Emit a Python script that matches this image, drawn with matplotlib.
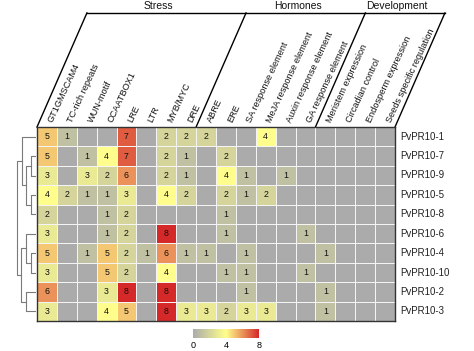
import numpy as np
import matplotlib
matplotlib.use("Agg")
import matplotlib.pyplot as plt
from matplotlib.colors import LinearSegmentedColormap

plt.rcParams['font.family'] = ['Liberation Sans', 'DejaVu Sans']

genes = ["PvPR10-1", "PvPR10-7", "PvPR10-9", "PvPR10-5", "PvPR10-8",
         "PvPR10-6", "PvPR10-4", "PvPR10-10", "PvPR10-2", "PvPR10-3"]

elements = ["GT1GMSCAM4", "TC-rich repeats", "WUN-motif", "CCAATBOX1", "LRE",
            "LTR", "MYB/MYC", "DRE", "ABRE", "ERE", "SA response element",
            "MeJA response element", "Auxin response element",
            "GA response element", "Meristem expression", "Circadian control",
            "Endosperm expression", "Seeds specific regulation"]

groups = ["Stress", "Hormones", "Development"]
group_sizes = [8, 6, 4]

# number of cis-elements per promoter (rows = genes, cols = elements)
counts = np.array([
    [5, 1, 0, 0, 7, 0, 2, 2, 2, 0, 0, 4, 0, 0, 0, 0, 0, 0],
    [5, 0, 1, 4, 7, 0, 2, 1, 0, 2, 0, 0, 0, 0, 0, 0, 0, 0],
    [3, 0, 3, 2, 6, 0, 2, 1, 0, 4, 1, 0, 1, 0, 0, 0, 0, 0],
    [4, 2, 1, 1, 3, 0, 4, 2, 0, 2, 1, 2, 0, 0, 0, 0, 0, 0],
    [2, 0, 0, 1, 2, 0, 0, 0, 0, 1, 0, 0, 0, 0, 0, 0, 0, 0],
    [3, 0, 0, 1, 2, 0, 8, 0, 0, 1, 0, 0, 0, 1, 0, 0, 0, 0],
    [5, 0, 1, 5, 2, 1, 6, 1, 1, 0, 1, 0, 0, 0, 1, 0, 0, 0],
    [3, 0, 0, 5, 2, 0, 4, 0, 0, 1, 1, 0, 0, 1, 0, 0, 0, 0],
    [6, 0, 0, 3, 8, 0, 8, 0, 0, 0, 1, 0, 0, 0, 1, 0, 0, 0],
    [3, 0, 0, 4, 5, 0, 8, 3, 3, 2, 3, 3, 0, 0, 1, 0, 0, 0],
])

# row clustering, scipy-like: (left, right, height), new ids start at 10
links = [
    (1, 2, 1.0),
    (3, 4, 1.0),
    (10, 11, 2.1),
    (0, 12, 3.1),
    (6, 7, 1.0),
    (5, 14, 2.1),
    (8, 9, 2.1),
    (15, 16, 3.3),
    (13, 17, 4.1),
]

cmap = LinearSegmentedColormap.from_list(
    "gyr", [(0.0, "#ababab"), (0.5, "#ffff8c"), (1.0, "#d52828")])

W, H = 474, 351
fig = plt.figure(figsize=(W / 100, H / 100), dpi=100)

nrow, ncol = counts.shape
hx0, hx1, hy0, hy1 = 37, 395, 127, 321
ax = fig.add_axes([hx0 / W, 1 - hy1 / H, (hx1 - hx0) / W, (hy1 - hy0) / H])
mesh = ax.pcolormesh(np.arange(ncol + 1), np.arange(nrow + 1), counts,
                     cmap=cmap, vmin=0, vmax=8, edgecolors="#f4f4f4",
                     linewidth=0.7)
ax.set_xlim(0, ncol)
ax.set_ylim(nrow, 0)
ax.set_xticks([])
ax.set_yticks([])
for s in ax.spines.values():
    s.set_color("#333333")
    s.set_linewidth(1.0)

for i in range(nrow):
    for j in range(ncol):
        if counts[i, j] > 0:
            ax.text(j + 0.5, i + 0.5, str(counts[i, j]), ha="center",
                    va="center", fontsize=6.3, color="#111111")

for i, g in enumerate(genes):
    ax.text(ncol + 0.25, i + 0.5, g, ha="left", va="center", fontsize=7,
            color="#222222")

for j, e in enumerate(elements):
    ax.text(j + 0.68, -0.25, e, rotation=65, rotation_mode="anchor",
            ha="left", va="center", fontsize=6.6, color="#111111")

# group brackets
top = -5.88
slant = 2.51
bounds = np.concatenate([[0], np.cumsum(group_sizes)])
for b in bounds:
    ax.plot([b, b + slant], [0, top], color="black", lw=1.0, clip_on=False)
ax.plot([bounds[0] + slant, bounds[-1] + slant], [top, top], color="black",
        lw=1.0, clip_on=False)
for k, g in enumerate(groups):
    xc = (bounds[k] + bounds[k + 1]) / 2 + 2.1
    ax.text(xc, -6.24, g, ha="center", va="center", fontsize=7.5,
            color="#111111")

# dendrogram
dax = fig.add_axes([0, 1 - hy1 / H, 36 / W, (hy1 - hy0) / H])
dax.set_xlim(36 / 4.6, 0)
dax.set_ylim(nrow, 0)
dax.axis("off")
pos = {i: (i + 0.5, 0.0) for i in range(nrow)}
for k, (a, b, h) in enumerate(links):
    ya, ha_ = pos[a]
    yb, hb = pos[b]
    dax.plot([ha_, h, h, hb], [ya, ya, yb, yb], color="#7a7a7a", lw=0.8)
    pos[nrow + k] = ((ya + yb) / 2, h)

# colour bar
cax = fig.add_axes([193 / W, 1 - 338 / H, 66 / W, 9 / H])
cb = fig.colorbar(mesh, cax=cax, orientation="horizontal", ticks=[0, 4, 8])
cb.outline.set_visible(False)
cax.tick_params(length=0, labelsize=6.5, pad=2)

fig.savefig("out.png", dpi=100)
